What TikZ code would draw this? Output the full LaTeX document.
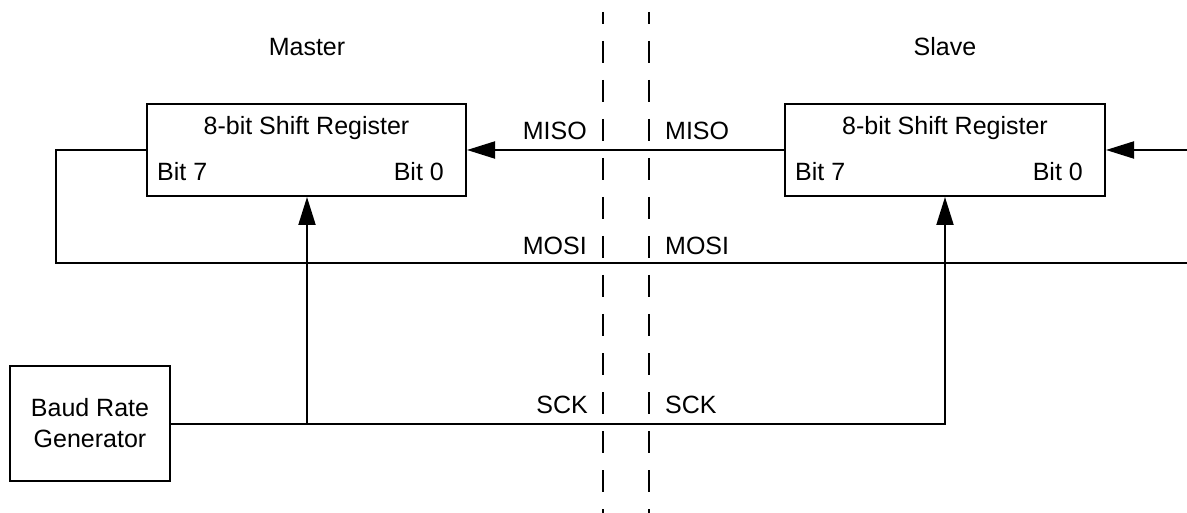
\documentclass[tikz,border=0pt]{standalone}
\usepackage{fontspec}
\setmainfont{Liberation Sans}
\usetikzlibrary{arrows.meta}
\begin{document}
\begin{tikzpicture}[x=1pt,y=-1pt,
  wire/.style={line width=2pt},
  arr/.style={wire,-{Triangle[length=28pt,width=17pt]}},
  blk/.style={draw,line width=2pt,inner sep=0pt},
  txt/.style={inner sep=0pt,font=\fontsize{25}{31}\selectfont},
  sep/.style={line width=2pt,dash pattern=on 22pt off 17pt,dash phase=10pt}]
\useasboundingbox (0,0) rectangle (1187,513);
% boxes
\node[blk,minimum width=319pt,minimum height=92pt] (m) at (306.5,150) {};
\node[blk,minimum width=320pt,minimum height=92pt] (s) at (945,150) {};
\node[blk,txt,minimum width=160pt,minimum height=115pt,align=center] (b) at (90,423.5) {Baud Rate\\Generator};
% box texts
\node[txt,anchor=base] (mt) at (306.5,135) {8-bit Shift Register};
\node[txt,anchor=base west] (m7) at (157,181) {Bit 7};
\node[txt,anchor=base east] (m0) at (444,181) {Bit 0};
\node[txt,anchor=base] (st) at (945,135) {8-bit Shift Register};
\node[txt,anchor=base west] (s7) at (795,181) {Bit 7};
\node[txt,anchor=base east] (s0) at (1083,181) {Bit 0};
% headings
\node[txt,anchor=base] (lm) at (307,56) {Master};
\node[txt,anchor=base] (ls) at (945,56) {Slave};
% separators
\coordinate (d1t) at (603,12); \coordinate (d1b) at (603,513);
\coordinate (d2t) at (649,12); \coordinate (d2b) at (649,513);
\draw[sep] (d1t) -- (d1b);
\draw[sep] (d2t) -- (d2b);
% signal labels
\node[txt,anchor=base east] (miso1) at (587,140) {MISO};
\node[txt,anchor=base west] (miso2) at (665,140) {MISO};
\node[txt,anchor=base east] (mosi1) at (587,255) {MOSI};
\node[txt,anchor=base west] (mosi2) at (665,255) {MOSI};
\node[txt,anchor=base east] (sck1) at (588,413) {SCK};
\node[txt,anchor=base west] (sck2) at (665,413) {SCK};
% connectors
\coordinate (inR) at (1187,150);
\coordinate (fbL) at (56,263);
\coordinate (fbR) at (1187,263);
\coordinate (j) at (307,424);
\draw[arr] (s.west) -- (m.east);
\draw[arr] (inR) -- (s.east);
\draw[wire] (m.west) -| (fbL) -- (fbR);
\draw[arr] (b.east) -| (s.south);
\draw[arr] (j) -- (j |- m.south);
\end{tikzpicture}
\end{document}
